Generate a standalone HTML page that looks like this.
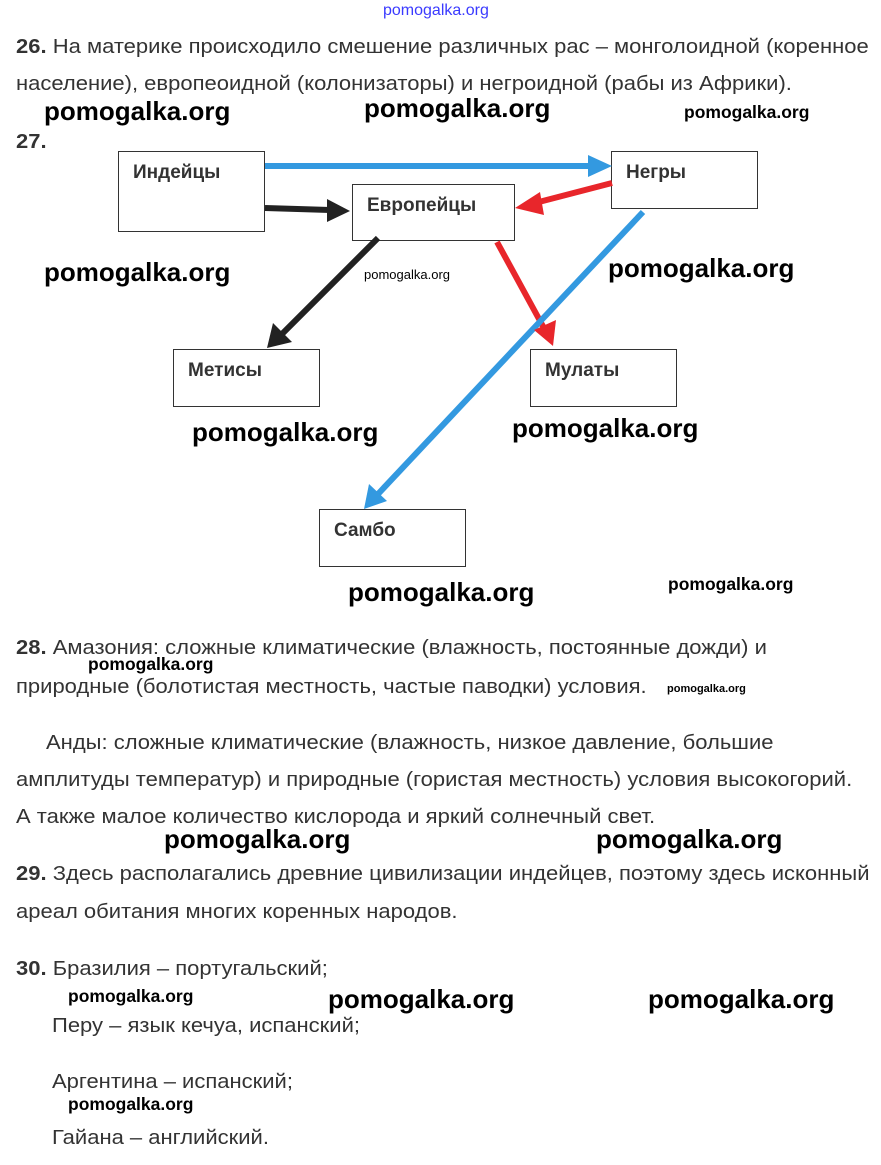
<!DOCTYPE html><html><head><meta charset="utf-8"><style>
body{margin:0;width:881px;height:1165px;background:#fff;position:relative;overflow:hidden;font-family:"Liberation Sans",sans-serif;color:#333}
.t{position:absolute;font-size:20px;white-space:nowrap;left:16px;transform:scaleX(1.1);transform-origin:0 0}
.w{position:absolute;font-family:"Liberation Sans",sans-serif;font-weight:bold;color:#000;white-space:nowrap;font-size:26px}
.s{font-size:17.5px}
.b{position:absolute;border:1px solid #333;background:#fff;box-sizing:border-box}
.b span{position:absolute;left:14px;top:10px;font-weight:bold;font-size:19px;color:#333}
</style></head><body>
<div class="w" style="left:383px;top:2px;font-size:16px;color:#3a3aff;font-weight:normal">pomogalka.org</div>
<div class="t" style="top:36px"><b>26.</b> На материке происходило смешение различных рас – монголоидной (коренное</div>
<div class="t" style="top:73px">население), европеоидной (колонизаторы) и негроидной (рабы из Африки).</div>
<div class="w" style="left:44px;top:96px">pomogalka.org</div>
<div class="w" style="left:364px;top:93px">pomogalka.org</div>
<div class="w s" style="left:684px;top:102px">pomogalka.org</div>
<div class="t" style="top:131px"><b>27.</b></div>
<div class="b" style="left:118px;top:151px;width:147px;height:81px"><span>Индейцы</span></div>
<div class="b" style="left:352px;top:184px;width:163px;height:57px"><span>Европейцы</span></div>
<div class="b" style="left:611px;top:151px;width:147px;height:58px"><span>Негры</span></div>
<div class="b" style="left:173px;top:349px;width:147px;height:58px"><span>Метисы</span></div>
<div class="b" style="left:530px;top:349px;width:147px;height:58px"><span>Мулаты</span></div>
<div class="b" style="left:319px;top:509px;width:147px;height:58px"><span>Самбо</span></div>
<svg width="881" height="1165" style="position:absolute;left:0;top:0">
<g stroke-width="6" fill="none">
<line x1="265" y1="166" x2="592" y2="166" stroke="#3399e0"/>
<line x1="265" y1="208" x2="330" y2="210" stroke="#222"/>
<line x1="612" y1="183" x2="535" y2="203" stroke="#e8262b"/>
<line x1="378" y1="238" x2="282" y2="334" stroke="#222"/>
<line x1="497" y1="242" x2="545" y2="330" stroke="#e8262b"/>
<line x1="643" y1="212" x2="378" y2="494" stroke="#3399e0"/>
</g>
<polygon points="612,166 588,155 588,177" fill="#3399e0"/>
<polygon points="350,211 327,199 327,222" fill="#222"/>
<polygon points="515,208 540,192 544,215" fill="#e8262b"/>
<polygon points="267,348 273,323 292,342" fill="#222"/>
<polygon points="553,346 534,330 556,320" fill="#e8262b"/>
<polygon points="364,509 369,484 387,501" fill="#3399e0"/>
</svg>
<div class="w" style="left:44px;top:257px">pomogalka.org</div>
<div class="w" style="left:364px;top:267px;font-size:13px;font-weight:normal">pomogalka.org</div>
<div class="w" style="left:608px;top:253px">pomogalka.org</div>
<div class="w" style="left:192px;top:417px">pomogalka.org</div>
<div class="w" style="left:512px;top:413px">pomogalka.org</div>
<div class="w" style="left:348px;top:577px">pomogalka.org</div>
<div class="w s" style="left:668px;top:574px">pomogalka.org</div>
<div class="t" style="top:637px"><b>28.</b> Амазония: сложные климатические (влажность, постоянные дожди) и</div>
<div class="w s" style="left:88px;top:654px">pomogalka.org</div>
<div class="t" style="top:676px">природные (болотистая местность, частые паводки) условия.</div>
<div class="w" style="left:667px;top:683px;font-size:11px">pomogalka.org</div>
<div class="t" style="top:732px;left:46px">Анды: сложные климатические (влажность, низкое давление, большие</div>
<div class="t" style="top:769px">амплитуды температур) и природные (гористая местность) условия высокогорий.</div>
<div class="t" style="top:806px">А также малое количество кислорода и яркий солнечный свет.</div>
<div class="w" style="left:164px;top:824px">pomogalka.org</div>
<div class="w" style="left:596px;top:824px">pomogalka.org</div>
<div class="t" style="top:863px"><b>29.</b> Здесь располагались древние цивилизации индейцев, поэтому здесь исконный</div>
<div class="t" style="top:901px">ареал обитания многих коренных народов.</div>
<div class="t" style="top:958px"><b>30.</b> Бразилия – португальский;</div>
<div class="w s" style="left:68px;top:986px">pomogalka.org</div>
<div class="w" style="left:328px;top:984px">pomogalka.org</div>
<div class="w" style="left:648px;top:984px">pomogalka.org</div>
<div class="t" style="top:1015px;left:52px">Перу – язык кечуа, испанский;</div>
<div class="t" style="top:1071px;left:52px">Аргентина – испанский;</div>
<div class="w s" style="left:68px;top:1094px">pomogalka.org</div>
<div class="t" style="top:1127px;left:52px">Гайана – английский.</div>
</body></html>
